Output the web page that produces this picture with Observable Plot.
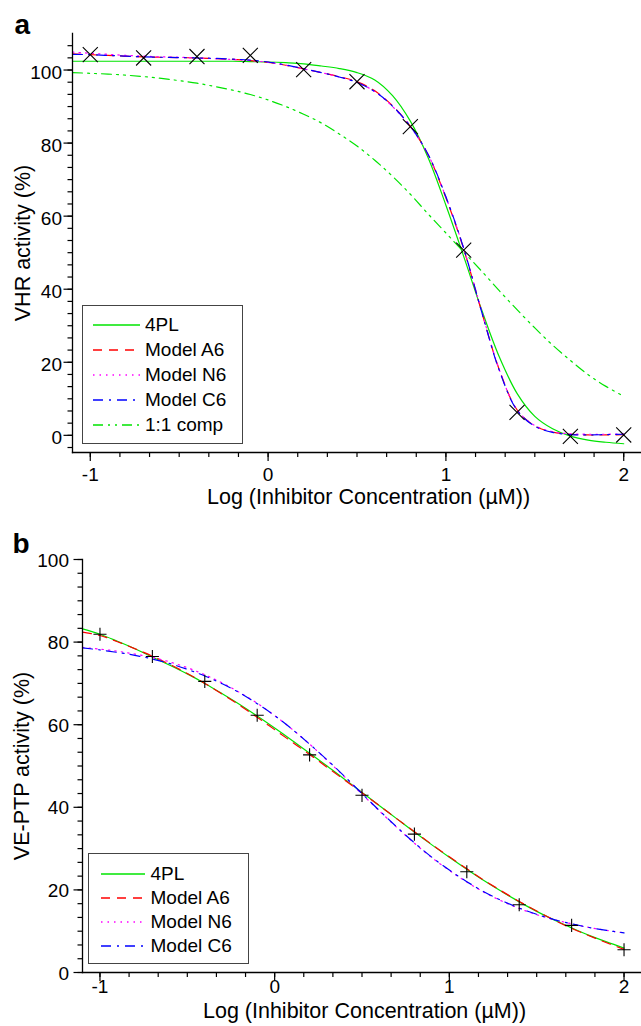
<!DOCTYPE html>
<html><head><meta charset="utf-8">
<script src="https://cdn.jsdelivr.net/npm/d3@7"></script>
<script src="https://cdn.jsdelivr.net/npm/@observablehq/plot@0.6"></script>
<style>
body{margin:0;background:#fff;font-family:"Liberation Sans",Arial,Helvetica,sans-serif;}
#wrap{position:relative;width:641px;height:1026px;overflow:hidden;background:#fff}
.panel{position:absolute;left:0}
.legend{position:absolute;border:1.3px solid #444;background:#fff;box-sizing:border-box}
.lg-line{position:absolute}
.lg-text{position:absolute;font-size:19px;line-height:22px;white-space:nowrap;color:#000}
</style></head><body><div id="wrap"></div><script>
// ---------- data ----------
const curveX = [-1.1,-1.0,-0.9,-0.8,-0.7,-0.6,-0.5,-0.4,-0.3,-0.2,-0.1,0.0,0.1,0.2,0.3,0.4,0.5,0.6,0.7,0.8,0.9,1.0,1.1,1.2,1.3,1.4,1.5,1.6,1.7,1.8,1.9,2.0];
const pointX = [-1,-0.7,-0.4,-0.1,0.2,0.5,0.8,1.1,1.4,1.7,2.0];

// panel a (VHR)
const a4PL  = [102.4,102.4,102.4,102.4,102.4,102.4,102.4,102.4,102.4,102.4,102.3,102.2,102.0,101.7,101.1,100.4,99.3,97.3,93.0,86.0,76.0,63.0,49.0,34.5,21.5,11.5,5.2,1.8,-0.2,-1.3,-1.9,-2.3];
const aA6   = [104.4,104.2,104.0,103.8,103.6,103.5,103.4,103.3,103.1,102.9,102.6,102.1,101.3,100.3,99.3,98.2,96.8,94.3,90.2,84.6,76.8,65.0,51.0,34.0,18.0,7.0,2.6,0.9,0.3,0.1,0.1,0.2];
const aN6   = [104.9,104.6,104.3,104.0,103.8,103.6,103.5,103.3,103.1,102.9,102.6,102.1,101.3,100.3,99.3,98.1,96.6,94.1,90.0,84.5,76.8,65.2,51.2,34.2,18.0,7.0,2.7,1.0,0.4,0.3,0.3,0.4];
const aC6   = [104.3,104.2,104.0,103.8,103.6,103.5,103.4,103.3,103.2,103.0,102.7,102.2,101.4,100.4,99.3,98.1,96.6,94.1,90.1,84.6,76.9,65.3,51.2,34.0,17.8,6.9,2.5,0.8,0.2,0.1,0.2,0.3];
const aComp = [99.3,99.1,98.9,98.6,98.2,97.7,97.1,96.4,95.5,94.5,93.3,91.8,90.0,87.9,85.5,82.5,79.2,75.3,70.9,66.0,60.6,55.4,50.2,45.0,39.6,34.4,29.4,24.7,20.5,16.6,13.4,10.7];
const aPoints = [104.2,103.3,103.7,104.0,100.1,96.8,84.5,50.7,6.3,-0.3,0.1];

// panel b (VE-PTP)
const b4PL = [83.2,81.9,80.2,78.4,76.4,74.4,72.3,70.0,67.5,64.9,62.1,59.2,56.2,53.1,50.0,46.8,43.6,40.4,37.2,34.0,30.9,27.9,25.0,22.2,19.6,17.1,14.8,12.7,10.8,9.0,7.4,5.9];
const bA6  = [82.4,81.6,80.1,78.4,76.6,74.6,72.4,70.0,67.4,64.7,61.8,58.8,55.8,52.8,49.7,46.6,43.5,40.4,37.2,34.1,31.0,28.0,25.1,22.3,19.7,17.2,14.9,12.7,10.7,8.9,7.2,5.6];
const bN6  = [78.7,78.3,77.8,77.1,76.3,75.2,73.8,72.1,70.1,67.8,65.2,62.2,58.9,55.3,51.4,47.4,43.2,39.1,35.1,31.3,27.8,24.7,21.9,19.4,17.3,15.5,14.0,12.8,11.8,10.9,10.2,9.6];
const bC6  = [78.6,78.1,77.5,76.8,75.9,74.8,73.4,71.8,69.9,67.7,65.1,62.2,58.9,55.3,51.5,47.5,43.3,39.2,35.2,31.4,27.9,24.8,22.0,19.5,17.4,15.6,14.1,12.8,11.8,10.9,10.2,9.6];
const bPoints = [81.9,76.5,70.5,62.3,52.7,42.9,33.5,24.4,16.4,11.4,5.5];

// ticks / labels
const xTicks = [-1,0,1,2];
const xTickLabels = ["-1","0","1","2"];
const yTicks = [0,20,40,60,80,100];
const yTickLabels = ["0","20","40","60","80","100"];
const xTitle = "Log (Inhibitor Concentration (µM))";
const aYTitle = "VHR activity (%)";
const bYTitle = "VE-PTP activity (%)";
const aSeriesNames = ["4PL","Model A6","Model N6","Model C6","1:1 comp"];
const bSeriesNames = ["4PL","Model A6","Model N6","Model C6"];

// ---------- styles ----------
const GREEN = "#00e400";
const styles = {
  "4PL":      {stroke: GREEN,     dash: null},
  "Model A6": {stroke: "#ff0000", dash: "9,7"},
  "Model N6": {stroke: "#ff00ff", dash: "1.5,5"},
  "Model C6": {stroke: "#0000ff", dash: "10,6,2,6"},
  "1:1 comp": {stroke: GREEN,     dash: "10,5,2,5,2,5"}
};
const FONT = '"Liberation Sans", Arial, Helvetica, sans-serif';

function rows(names, arrays) {
  return names.flatMap((n, k) => arrays[k].map((y, i) => ({series: n, x: curveX[i], y})));
}
const aRows = rows(aSeriesNames, [a4PL, aA6, aN6, aC6, aComp]);
const bRows = rows(bSeriesNames, [b4PL, bA6, bN6, bC6]);
const aPts = pointX.map((x, i) => ({x, y: aPoints[i]}));
const bPts = pointX.map((x, i) => ({x, y: bPoints[i]}));

const xMinor = d3.range(-6, 13).map(i => i / 6);
const fmtX = d => xTickLabels[xTicks.indexOf(d)];
const fmtY = d => yTickLabels[yTicks.indexOf(d)];

function curveMarks(data, order) {
  return order.map(n => Plot.line(data.filter(d => d.series === n), {
    x: "x", y: "y", stroke: styles[n].stroke, strokeWidth: 1.2,
    strokeDasharray: styles[n].dash, curve: "catmull-rom"
  }));
}

function panel(o) {
  return Plot.plot({
    width: 641, height: o.height,
    marginLeft: o.ml, marginRight: 0, marginTop: o.mt, marginBottom: o.mb,
    x: {domain: [-1.1, 2.1], label: null},
    y: {domain: o.ydom, label: null},
    style: {fontFamily: FONT, fontSize: "19px", color: "black", background: "white", overflow: "visible"},
    marks: [
      ...curveMarks(o.rows, o.order),
      Plot.dot(o.pts, {x: "x", y: "y", symbol: o.symbol, r: o.r, stroke: "black", strokeWidth: 1.1}),
      Plot.frame({anchor: "left", strokeWidth: 1.3}),
      Plot.frame({anchor: "bottom", strokeWidth: 1.3}),
      Plot.axisX({ticks: xMinor, tickSize: 5, tickFormat: () => "", strokeWidth: 1.2, label: null}),
      Plot.axisX({ticks: xTicks, tickSize: 9, tickFormat: () => "", strokeWidth: 1.2, label: null}),
      Plot.axisX({ticks: xTicks, tickSize: 0, tickPadding: o.xpad, tickFormat: fmtX, fontSize: 19, label: null}),
      Plot.axisY({ticks: o.yMinor, tickSize: 4.5, tickFormat: () => "", strokeWidth: 1.2, label: null}),
      Plot.axisY({ticks: yTicks, tickSize: 8.5, tickFormat: () => "", strokeWidth: 1.2, label: null}),
      Plot.axisY({ticks: yTicks, tickSize: 0, tickPadding: o.ypad, dy: o.ydy, tickFormat: fmtY, fontSize: 19, label: null}),
      Plot.text([xTitle], {frameAnchor: "bottom", dx: o.tdx, dy: o.tdy, textAnchor: "middle", lineAnchor: "bottom", fontSize: 21.5}),
      Plot.text([o.yTitle], {frameAnchor: "left", dx: o.ydx, rotate: -90, textAnchor: "middle", lineAnchor: "middle", fontSize: 21.5}),
      Plot.text([o.letter], {frameAnchor: "top-left", dx: o.ldx, dy: o.ldy, textAnchor: "start", lineAnchor: "bottom", fontWeight: "bold", fontSize: 28})
    ]
  });
}

const wrap = document.getElementById("wrap");

const pa = panel({
  height: 512, ml: 72, mt: 33, mb: 60, ydom: [-4.7, 110],
  rows: aRows, order: ["1:1 comp","4PL","Model A6","Model N6","Model C6"],
  pts: aPts, symbol: "times", r: 6.9,
  yMinor: d3.range(-1, 33).map(i => i * 10 / 3),
  xpad: 14.5, ypad: 10.5, ydy: 3, tdx: 11.5, tdy: 51, yTitle: aYTitle, ydx: -49.5,
  letter: "a", ldx: -58, ldy: 0
});
pa.classList.add("panel"); pa.style.top = "0px";
wrap.appendChild(pa);

const pb = panel({
  height: 506, ml: 82, mt: 39, mb: 54, ydom: [0, 100],
  rows: bRows, order: ["4PL","Model A6","Model N6","Model C6"],
  pts: bPts, symbol: "plus", r: 4.3,
  yMinor: d3.range(0, 31).map(i => i * 10 / 3),
  xpad: 7, ypad: 13.5, ydy: 1, tdx: 2.5, tdy: 45, yTitle: bYTitle, ydx: -60,
  letter: "b", ldx: -70, ldy: -7
});
pb.classList.add("panel"); pb.style.top = "520px";
wrap.appendChild(pb);

// ---------- legends ----------
function legend(names, box) {
  const div = document.createElement("div");
  div.className = "legend";
  Object.assign(div.style, {left: box.left + "px", top: box.top + "px", width: box.w + "px", height: box.h + "px"});
  names.forEach((n, i) => {
    const cy = box.first + i * box.step;
    const svg = d3.create("svg").attr("class", "lg-line")
      .attr("width", box.lineW).attr("height", 10)
      .style("left", box.lineX + "px").style("top", (cy - 5) + "px");
    svg.append("line").attr("x1", 0).attr("x2", box.lineW).attr("y1", 5).attr("y2", 5)
      .attr("stroke", styles[n].stroke).attr("stroke-width", 1.3)
      .attr("stroke-dasharray", styles[n].dash);
    div.appendChild(svg.node());
    const t = document.createElement("div");
    t.className = "lg-text"; t.textContent = n;
    t.style.left = box.textX + "px"; t.style.top = (cy - 11) + "px";
    div.appendChild(t);
  });
  wrap.appendChild(div);
}
legend(aSeriesNames, {left: 82, top: 305, w: 161, h: 139, first: 19, step: 25, lineX: 10, lineW: 47, textX: 62});
legend(bSeriesNames, {left: 88, top: 853, w: 161, h: 111, first: 19.5, step: 24, lineX: 11.5, lineW: 44, textX: 61.5});
</script></body></html>
